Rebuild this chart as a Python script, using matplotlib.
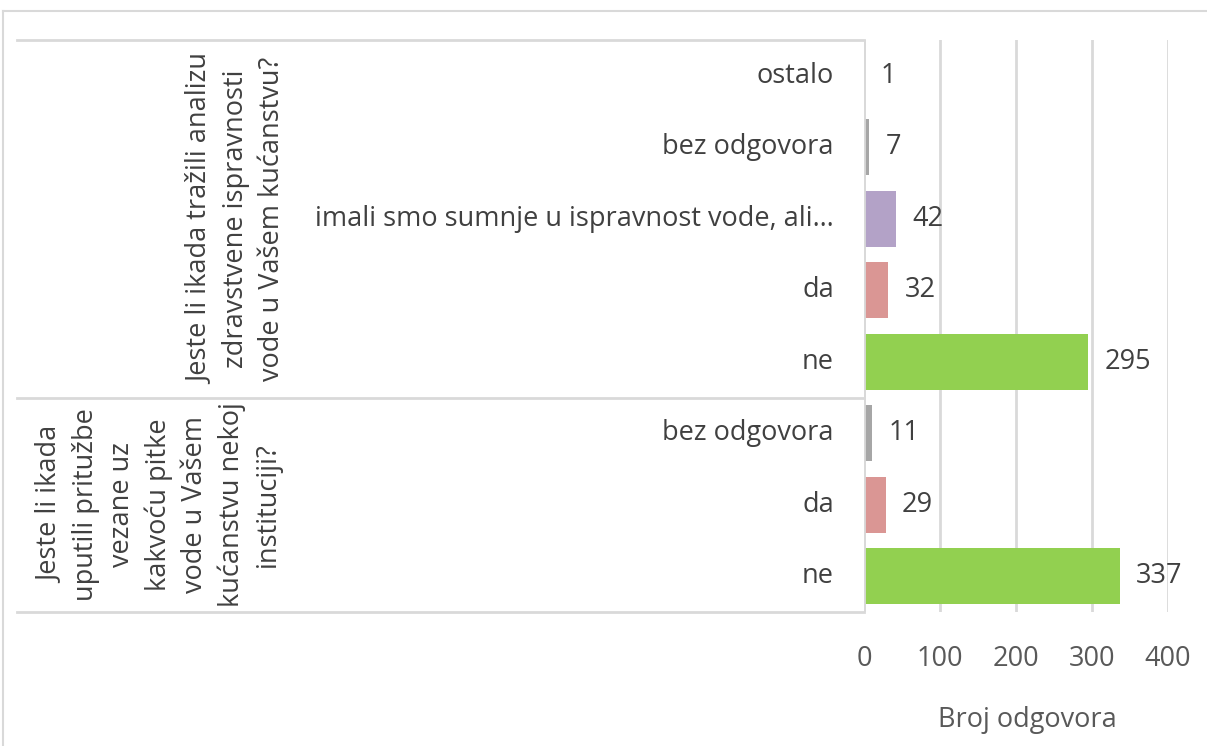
import matplotlib
matplotlib.use("Agg")
import matplotlib.pyplot as plt
from matplotlib.transforms import blended_transform_factory

plt.rcParams['font.family'] = ['Open Sans', 'DejaVu Sans']

# Data (top to bottom)
categories = ["ostalo", "bez odgovora", "imali smo sumnje u ispravnost vode, ali…", "da", "ne",
              "bez odgovora", "da", "ne"]
values = [1, 7, 42, 32, 295, 11, 29, 337]
colors = ["#95B3D7", "#A6A6A6", "#B3A2C7", "#DA9694", "#92D050",
          "#A6A6A6", "#DA9694", "#92D050"]
groups = ["Jeste li ikada tražili analizu\nzdravstvene ispravnosti\nvode u Vašem kućanstvu?",
          "Jeste li ikada\nuputili pritužbe\nvezane uz\nkakvoću pitke\nvode u Vašem\nkućanstvu nekoj\ninstituciji?"]
group_sizes = [5, 3]
xticks = [0, 100, 200, 300, 400]
xlabel = "Broj odgovora"

W, H = 1207, 746
fig = plt.figure(figsize=(W / 100, H / 100), dpi=100)

# axes placement in pixels
x0, x1 = 864, 1168
y_top, y_bot = 40, 612
ax = fig.add_axes([x0 / W, 1 - y_bot / H, (x1 - x0) / W, (y_bot - y_top) / H])

grid_c = "#D9D9D9"
text_c = "#404040"
tick_c = "#595959"
fs = 19.5

ypos = list(range(len(values)))
ax.barh(ypos, values, height=0.78, color=colors, zorder=3)
ax.set_ylim(len(values) - 0.5, -0.5)
ax.set_xlim(0, 400)
ax.set_xticks(xticks)
ax.set_xticklabels([str(t) for t in xticks])
ax.tick_params(axis='x', length=0, pad=24, labelsize=fs, labelcolor=tick_c)
ax.set_yticks([])
ax.grid(axis='x', color=grid_c, linewidth=2, zorder=0)
for s in ax.spines.values():
    s.set_visible(False)
ax.axvline(0, color=grid_c, linewidth=2, zorder=4)
ax.set_xlabel(xlabel, fontsize=fs, color=tick_c)
ax.xaxis.set_label_coords((1027 - x0) / (x1 - x0), -(706 - y_bot) / (y_bot - y_top))

# value labels
for y, v in zip(ypos, values):
    ax.annotate(str(v), (v, y), xytext=(16 * 0.72, 0), textcoords='offset points',
                va='center', ha='left', fontsize=fs, color=text_c)

# category labels
trans = blended_transform_factory(ax.transAxes, ax.transData)
px = 1.0 / (x1 - x0)
for y, c in zip(ypos, categories):
    ax.text(-(864 - 834) * px, y, c, transform=trans, ha='right', va='center',
            fontsize=fs, color=text_c)

# horizontal separators of the category axis
bounds = [-0.5]
acc = -0.5
for g in group_sizes:
    acc += g
    bounds.append(acc)
for b in bounds:
    ax.plot([-(864 - 17) * px, 0], [b, b], color=grid_c, linewidth=2,
            transform=trans, clip_on=False, zorder=1)

# group labels
group_x = [236, 159]
start = -0.5
for g, n, gx in zip(groups, group_sizes, group_x):
    mid = start + n / 2
    ax.text((gx - 864) * px, mid, g, transform=trans, rotation=90,
            ha='center', va='center', multialignment='center',
            fontsize=fs, color=text_c, linespacing=1.38)
    start += n

# figure border
fig.add_artist(plt.Line2D([3 / W, 3 / W], [0, 1 - 11 / H], color=grid_c, linewidth=1.5,
                          transform=fig.transFigure))
fig.add_artist(plt.Line2D([3 / W, 1], [1 - 11 / H, 1 - 11 / H], color=grid_c, linewidth=1.5,
                          transform=fig.transFigure))

fig.savefig("out.png", dpi=100)
